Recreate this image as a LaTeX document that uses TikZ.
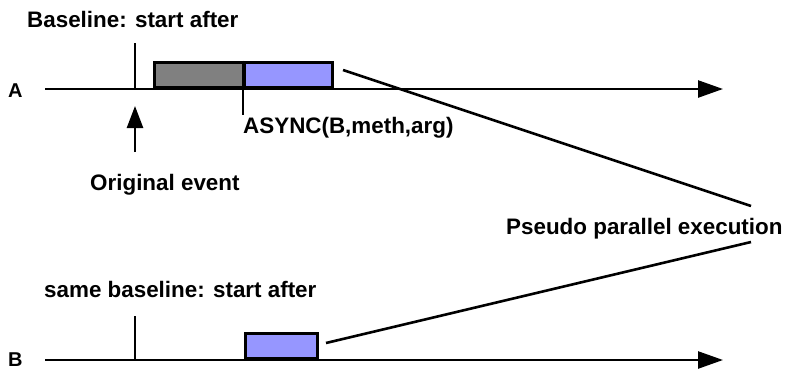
\documentclass[tikz,border=0pt]{standalone}
\usepackage{fontspec}
\setmainfont{Liberation Sans}
\usetikzlibrary{arrows.meta}
\definecolor{boxblue}{RGB}{150,150,255}
\definecolor{boxgray}{RGB}{128,128,128}
\begin{document}
\begin{tikzpicture}[x=1pt,y=-1pt,
  lbl/.style={font=\fontsize{22.4}{26}\selectfont\bfseries, inner sep=0pt, anchor=base west},
  axlbl/.style={font=\fontsize{20}{22}\selectfont\bfseries, inner sep=0pt, anchor=base west},
  timeline/.style={line width=2.5pt, -{Triangle[length=25pt,width=17pt]}},
  tick/.style={line width=2.5pt},
  conn/.style={line width=2.6pt},
  upar/.style={line width=2.5pt, -{Triangle[length=22pt,width=16pt]}},
  taskbox/.style={draw, line width=3pt, inner sep=0pt, anchor=south west},
]
\useasboundingbox (0,0) rectangle (787,370);

% labels
\node[lbl] (baseA) at (27,27) {Baseline: start after};
\node[lbl] (async) at (243,133) {ASYNC(B,meth,arg)};
\node[lbl] (orig) at (90,190) {Original event};
\node[lbl] (pseudo) at (506,234) {Pseudo parallel execution};
\node[lbl] (baseB) at (44,297) {same baseline: start after};
\node[axlbl] (labA) at (8,97) {A};
\node[axlbl] (labB) at (8,366) {B};

% timelines
\coordinate (As) at (45,89);
\coordinate (Ae) at (723,89);
\coordinate (Bs) at (45,360);
\coordinate (Be) at (723,360);
\draw[timeline] (As) -- (Ae);
\draw[timeline] (Bs) -- (Be);

% boxes
\node[taskbox, fill=boxgray, minimum width=90pt, minimum height=25.5pt] (gray) at (153,89) {};
\node[taskbox, fill=boxblue, minimum width=88pt, minimum height=25.5pt] (blueA) at (243,89) {};
\node[taskbox, fill=boxblue, minimum width=72pt, minimum height=25.5pt] (blueB) at (244,360) {};

% ticks
\coordinate (tA1) at (135,43);
\coordinate (tA2) at (135,89);
\draw[tick] (tA1) -- (tA2);
\coordinate (tB1) at (135,316);
\coordinate (tB2) at (135,360);
\draw[tick] (tB1) -- (tB2);
\coordinate (tS2) at (243,115);
\draw[tick] (blueA.north west) -- (tS2);

% original event arrow
\coordinate (uA1) at (135,152);
\coordinate (uA2) at (135,106);
\draw[upar] (uA1) -- (uA2);

% connectors to pseudo parallel label
\coordinate (cA1) at (343,70);
\coordinate (cA2) at (751,206);
\coordinate (cB1) at (326,343);
\coordinate (cB2) at (751,242);
\draw[conn] (cA1) -- (cA2);
\draw[conn] (cB1) -- (cB2);
\end{tikzpicture}
\end{document}
